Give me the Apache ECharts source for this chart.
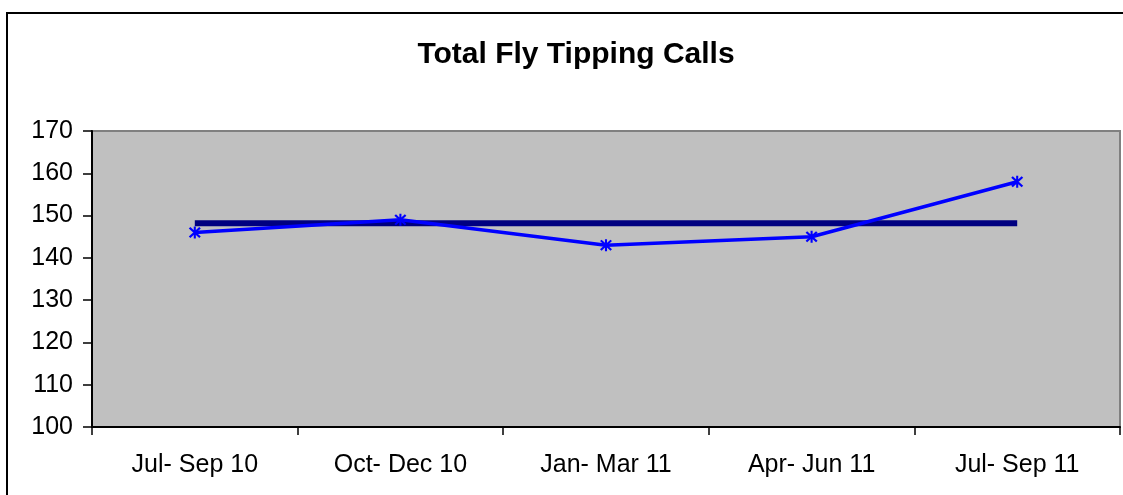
<!DOCTYPE html>
<html><head><meta charset="utf-8">
<script src="https://cdn.jsdelivr.net/npm/echarts@6/dist/echarts.min.js"></script>
<style>html,body{margin:0;padding:0;background:#fff;}#c{width:1123px;height:495px;}</style>
</head><body><div id="c"></div>
<script>
const categories = ["Jul- Sep 10", "Oct- Dec 10", "Jan- Mar 11", "Apr- Jun 11", "Jul- Sep 11"];
const calls = [146, 149, 143, 145, 158];
const average = [148.2, 148.2, 148.2, 148.2, 148.2];
const yTicks = [100, 110, 120, 130, 140, 150, 160, 170];

const asterisk = 'path://M4.2,0L5.8,0L5.8,10L4.2,10Z M0.4,1.6L1.6,0.4L9.6,8.4L8.4,9.6Z M8.4,0.4L9.6,1.6L1.6,9.6L0.4,8.4Z';
const chart = echarts.init(document.getElementById('c'));
const font = '"Liberation Sans", Arial, sans-serif';
chart.setOption({
  animation: false,
  textStyle: {fontFamily: font},
  graphic: [
    {type: 'rect', shape: {x: 7, y: 13, width: 1130, height: 500}, style: {fill: 'none', stroke: '#000', lineWidth: 2}, z: 100, silent: true},
    {type: 'text', x: 576, y: 55, style: {text: 'Total Fly Tipping Calls', fontFamily: font, fontWeight: 'bold', fontSize: 30, fill: '#000', textAlign: 'center', textVerticalAlign: 'middle'}}
  ],
  grid: {left: 92, right: 3, top: 131, bottom: 68, show: true, backgroundColor: '#C0C0C0', borderColor: '#808080', borderWidth: 2},
  xAxis: {
    type: 'category', data: categories, boundaryGap: true,
    axisLine: {lineStyle: {color: '#000', width: 2}},
    axisTick: {show: true, length: 8, lineStyle: {color: '#000', width: 1.5}},
    axisLabel: {color: '#000', fontSize: 25, margin: 26, fontFamily: font},
    splitLine: {show: false}
  },
  yAxis: {
    type: 'value', min: yTicks[0], max: yTicks[yTicks.length - 1], interval: 10,
    axisLine: {show: true, lineStyle: {color: '#000', width: 2}},
    axisTick: {show: true, length: 9, lineStyle: {color: '#000', width: 1.5}},
    axisLabel: {color: '#000', fontSize: 25, margin: 19, fontFamily: font},
    splitLine: {show: false}
  },
  series: [
    {type: 'line', data: average, symbol: 'none', lineStyle: {color: '#000080', width: 6}, z: 2},
    {type: 'line', data: calls, symbol: asterisk, symbolSize: 12, itemStyle: {color: '#0000FF'}, lineStyle: {color: '#0000FF', width: 3.5}, z: 3}
  ]
});
</script></body></html>
